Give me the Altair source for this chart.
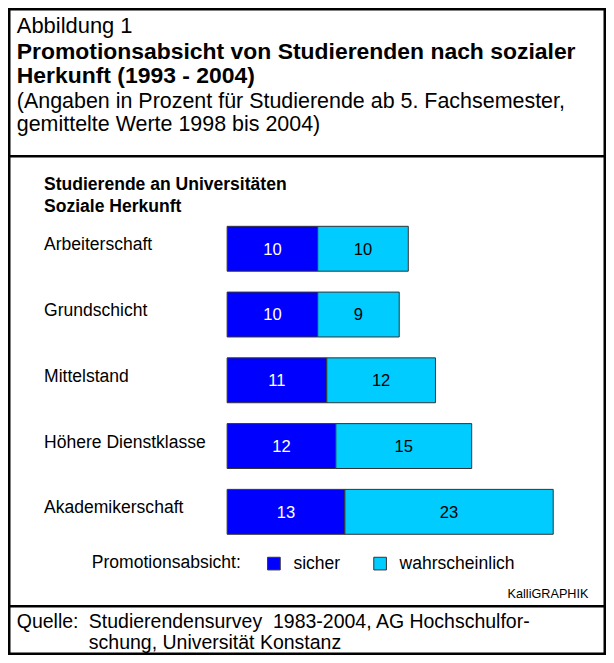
import altair as alt
import pandas as pd

# ---------------- data ----------------
categories = ["Arbeiterschaft", "Grundschicht", "Mittelstand",
              "Höhere Dienstklasse", "Akademikerschaft"]
series_names = ["sicher", "wahrscheinlich"]
sicher = [10, 10, 11, 12, 13]
wahrscheinlich = [10, 9, 12, 15, 23]
series_colors = ["#0000FF", "#00CCFF"]

title_lines = ["Abbildung 1",
               "Promotionsabsicht von Studierenden nach sozialer",
               "Herkunft (1993 - 2004)",
               "(Angaben in Prozent für Studierende ab 5. Fachsemester,",
               "gemittelte Werte 1998 bis 2004)"]
panel_heading = ["Studierende an Universitäten", "Soziale Herkunft"]
legend_title = "Promotionsabsicht:"
credit = "KalliGRAPHIK"
source_label = "Quelle:"
source_lines = ["Studierendensurvey\u00a0 1983-2004, AG Hochschulfor-",
                "schung, Universität Konstanz"]

FONT = "Liberation Sans"

# ---------------- geometry helpers (layout only) ----------------
W, H = 598, 647
SX, SY = W / 614, H / 663
SF = (SX + SY) / 2


def X(v):
    return v * SX


def Y(v):
    return v * SY


def F(v):
    return v * SF


# ---------------- tables ----------------
rows = []
for c, a, b in zip(categories, sicher, wahrscheinlich):
    rows.append({"cat": c, "series": "sicher", "value": a, "start": 0, "end": a, "mid": a / 2})
    rows.append({"cat": c, "series": "wahrscheinlich", "value": b, "start": a, "end": a + b,
                 "mid": a + b / 2})
bars_df = pd.DataFrame(rows)
cats_df = pd.DataFrame({"cat": categories})

xscale = alt.Scale(domain=[0, 40], range=[X(225), X(225 + 40 * 9.3)])
yscale = alt.Scale(domain=categories, range=[Y(213), Y(550)],
                   paddingInner=0.3175, paddingOuter=0.159)

normal_txt = pd.DataFrame([
    {"t": title_lines[0], "px": X(9), "py": Y(26), "fs": F(22.5)},
    {"t": title_lines[3], "px": X(9), "py": Y(102.5), "fs": F(22)},
    {"t": title_lines[4], "px": X(9), "py": Y(126.5), "fs": F(22)},
    {"t": source_label, "px": X(9), "py": Y(635), "fs": F(20)},
    {"t": source_lines[0], "px": X(83), "py": Y(635), "fs": F(20)},
    {"t": source_lines[1], "px": X(83), "py": Y(657), "fs": F(20)},
])
bold_txt = pd.DataFrame([
    {"t": title_lines[1], "px": X(9), "py": Y(52), "fs": F(23.5)},
    {"t": title_lines[2], "px": X(9), "py": Y(76.5), "fs": F(23.5)},
    {"t": panel_heading[0], "px": X(37), "py": Y(187), "fs": F(18)},
    {"t": panel_heading[1], "px": X(37), "py": Y(209), "fs": F(18)},
])
credit_txt = pd.DataFrame([{"t": credit, "px": X(596), "py": Y(605), "fs": F(13)}])
rules_df = pd.DataFrame({"py": [Y(152), Y(613)]})
one = pd.DataFrame({"k": [0]})

# ---------------- layers ----------------
frame = alt.Chart(one).mark_rect(filled=False, stroke="black", strokeWidth=2.5).encode(
    x=alt.value(1.25), x2=alt.value(W - 1.25), y=alt.value(1.25), y2=alt.value(H - 1.25))

rules = alt.Chart(rules_df).mark_rule(color="black", strokeWidth=2.5).encode(
    x=alt.value(0), x2=alt.value(W), y=alt.Y("py:Q", scale=None, axis=None))


def text_layer(df, weight="normal", align="left"):
    return alt.Chart(df).mark_text(font=FONT, fontWeight=weight, align=align,
                                   baseline="alphabetic", color="black").encode(
        x=alt.X("px:Q", scale=None, axis=None),
        y=alt.Y("py:Q", scale=None, axis=None),
        size=alt.Size("fs:Q", scale=None, legend=None),
        text="t:N")


bars = alt.Chart(bars_df).mark_bar(stroke="#333333", strokeWidth=1).encode(
    x=alt.X("start:Q", scale=xscale, axis=None),
    x2="end:Q",
    y=alt.Y("cat:N", scale=yscale, axis=None, sort=categories),
    color=alt.Color("series:N",
                    scale=alt.Scale(domain=series_names, range=series_colors),
                    legend=alt.Legend(
                        orient="none", legendX=X(86), legendY=Y(560),
                        direction="horizontal", title=legend_title,
                        titleOrient="left", titleFont=FONT, titleFontSize=F(18),
                        titleFontWeight="normal", titleColor="black",
                        titlePadding=X(24), titleBaseline="middle",
                        labelFont=FONT, labelFontSize=F(18), labelColor="black",
                        labelOffset=X(11), symbolType="square", symbolSize=160,
                        symbolStrokeColor="#333333", symbolStrokeWidth=1,
                        symbolOpacity=1, columnPadding=X(31))),
    order=alt.Order("start:Q"))

numbers = alt.Chart(bars_df).mark_text(font=FONT, fontSize=F(17), align="center",
                                       baseline="alphabetic", dy=F(6)).encode(
    x=alt.X("mid:Q", scale=xscale, axis=None),
    y=alt.Y("cat:N", scale=yscale, axis=None, sort=categories),
    text=alt.Text("value:Q"),
    color=alt.when(alt.datum.series == "sicher").then(alt.value("white")).otherwise(
        alt.value("black")))

cat_labels = alt.Chart(cats_df).mark_text(font=FONT, fontSize=F(18), align="left",
                                          baseline="alphabetic", dy=F(1.5),
                                          color="black").encode(
    x=alt.value(X(37)),
    y=alt.Y("cat:N", scale=yscale, axis=None, sort=categories),
    text="cat:N")

chart = alt.layer(
    frame, rules, bars, numbers, cat_labels,
    text_layer(normal_txt), text_layer(bold_txt, "bold"),
    text_layer(credit_txt, align="right"),
).resolve_scale(x="independent", y="independent").properties(
    width=W, height=H, padding=0,
    autosize=alt.AutoSizeParams(type="none"),
    background="white",
).configure_view(stroke=None)

chart.save("out.html", embed_options={"renderer": "svg", "actions": False})
